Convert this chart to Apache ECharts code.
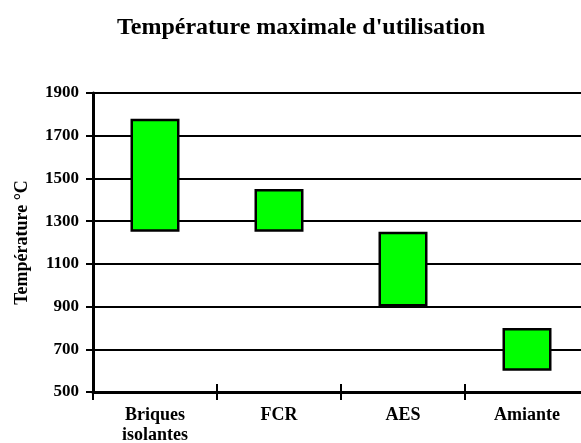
<!DOCTYPE html>
<html><head><meta charset="utf-8">
<script src="https://cdn.jsdelivr.net/npm/echarts@6/dist/echarts.min.js"></script>
<style>html,body{margin:0;padding:0;background:#fff}#c{width:581px;height:443px}</style>
</head><body><div id="c"></div>
<script>
const categories = ['Briques\nisolantes', 'FCR', 'AES', 'Amiante'];
const lowValues = [1250, 1250, 900, 600];
const highValues = [1780, 1450, 1250, 800];
const yTicks = [500, 700, 900, 1100, 1300, 1500, 1700, 1900];

const font = 'Liberation Serif';
const chart = echarts.init(document.getElementById('c'));
chart.setOption({
  animation: false,
  title: {
    text: "Température maximale d'utilisation",
    left: 296, top: 11, textAlign: 'center',
    textStyle: {fontFamily: font, fontWeight: 'bold', fontSize: 24, color: '#000'}
  },
  grid: {left: 93, top: 93, width: 496, height: 299, containLabel: false, outerBoundsMode: 'none'},
  xAxis: [{
    type: 'category', data: categories,
    axisLine: {lineStyle: {color: '#000', width: 3}},
    axisTick: {show: true, length: 8, lineStyle: {color: '#000', width: 2}},
    axisLabel: {fontFamily: font, fontWeight: 'bold', fontSize: 18, color: '#000', margin: 13, lineHeight: 20}
  }, {
    type: 'category', data: categories, position: 'bottom',
    axisLine: {show: false},
    axisTick: {show: true, inside: true, length: 8, lineStyle: {color: '#000', width: 2}},
    axisLabel: {show: false}
  }],
  yAxis: {
    type: 'value', min: yTicks[0], max: yTicks[yTicks.length - 1], interval: 200,
    name: 'Température °C', nameLocation: 'middle', nameGap: 62, nameRotate: 90,
    nameTextStyle: {fontFamily: font, fontWeight: 'bold', fontSize: 18, color: '#000'},
    axisLine: {show: true, lineStyle: {color: '#000', width: 3}},
    axisTick: {show: true, length: 7, lineStyle: {color: '#000', width: 2}},
    axisLabel: {fontFamily: font, fontWeight: 'bold', fontSize: 17, color: '#000', margin: 14,
      formatter: v => String(v)},
    splitLine: {lineStyle: {color: '#000', width: 2}}
  },
  series: [
    {type: 'bar', stack: 's', data: lowValues, itemStyle: {color: 'transparent'}, barWidth: 49, silent: true},
    {type: 'bar', stack: 's', data: highValues.map((h, i) => h - lowValues[i]),
     itemStyle: {color: '#00ff00', borderColor: '#000', borderWidth: 2.5}, barWidth: 49}
  ]
});
</script></body></html>
